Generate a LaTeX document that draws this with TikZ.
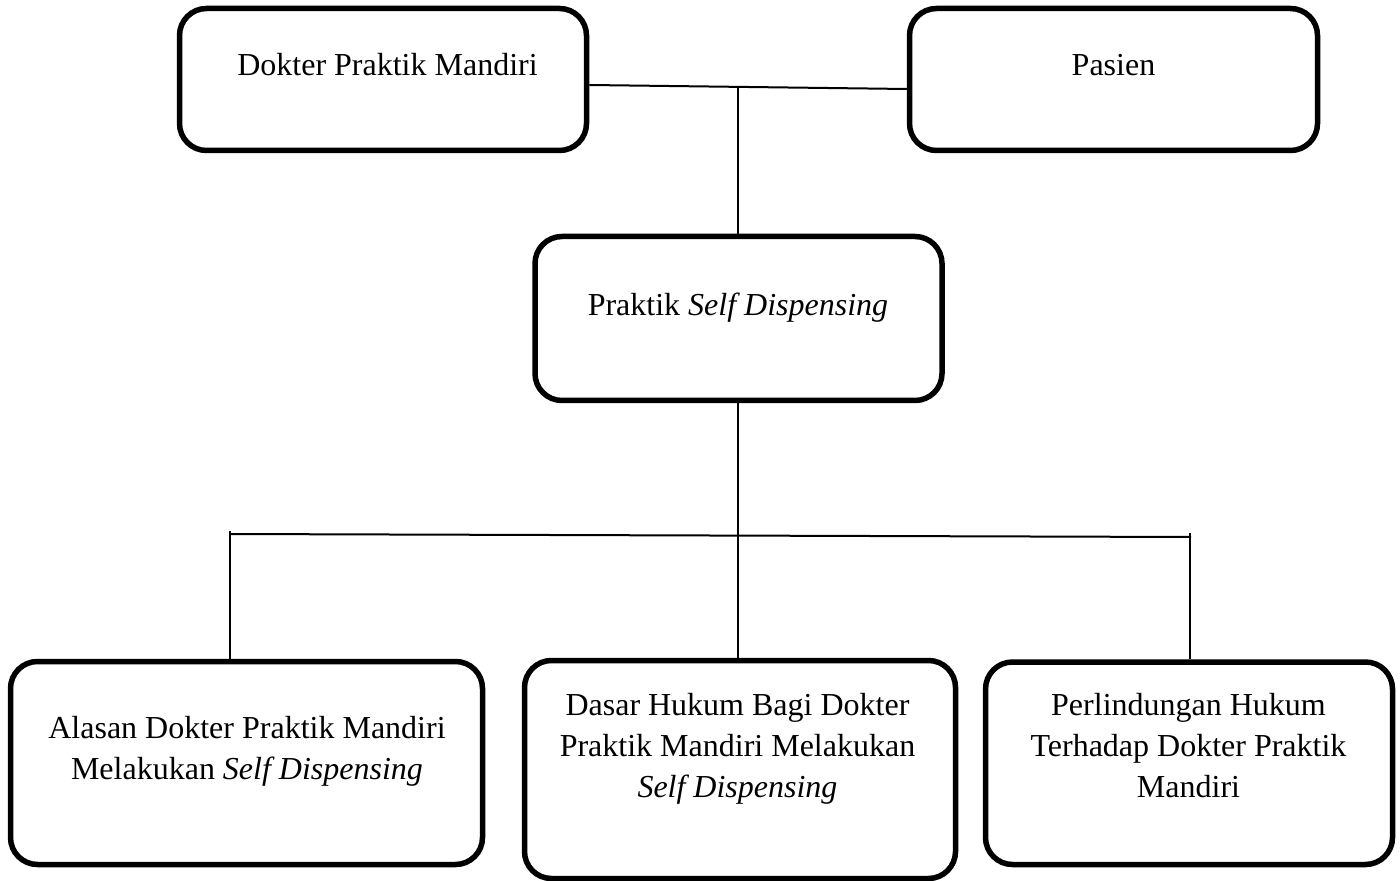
\documentclass[tikz,border=0pt]{standalone}
\usepackage{fontspec}
\setmainfont{Liberation Serif}
\begin{document}
\begin{tikzpicture}[x=0.5pt,y=-0.5pt,
  box/.style={draw=black,line width=2.75pt,rounded corners=13.5pt,inner sep=0pt,fill=white},
  conn/.style={draw=black,line width=1pt},
  lbl/.style={anchor=base,inner sep=0pt,font=\fontsize{16}{20.5}\selectfont}]
\useasboundingbox (0,0) rectangle (1400,881);
% boxes
\node[box,minimum width=203.5pt,minimum height=71pt] (A) at (383,79.5) {};
\node[box,minimum width=204pt,minimum height=71pt] (B) at (1113.5,79.5) {};
\node[box,minimum width=203.5pt,minimum height=82pt] (C) at (738.5,318.5) {};
\node[box,minimum width=236pt,minimum height=101.5pt] (D) at (246.5,763) {};
\node[box,minimum width=215.5pt,minimum height=109pt] (E) at (740,769.5) {};
\node[box,minimum width=203.5pt,minimum height=101.25pt] (F) at (1189,763.25) {};
% texts
\node[lbl] (tA) at (387.5,76) {Dokter Praktik Mandiri};
\node[lbl] (tB) at (1113.5,76) {Pasien};
\node[lbl] (tC) at (738,316) {Praktik \textit{Self Dispensing}};
\node[lbl] (tD) at (247,738) {\setlength{\tabcolsep}{0pt}\begin{tabular}[t]{c}Alasan Dokter Praktik Mandiri\\Melakukan \textit{Self Dispensing}\end{tabular}};
\node[lbl] (tE) at (737.5,715) {\setlength{\tabcolsep}{0pt}\begin{tabular}[t]{c}Dasar Hukum Bagi Dokter\\Praktik Mandiri Melakukan\\\textit{Self Dispensing}\end{tabular}};
\node[lbl] (tF) at (1188.5,715) {\setlength{\tabcolsep}{0pt}\begin{tabular}[t]{c}Perlindungan Hukum\\Terhadap Dokter Praktik\\Mandiri\end{tabular}};
% connectors
\coordinate (m) at (738,88.5);
\coordinate (hl) at (230,534);
\coordinate (hr) at (1191,537);
\coordinate (dl) at (230,531);
\coordinate (fr) at (1190,533);
\draw[conn] (A.east |- 0,85) -- (B.west |- 0,89);
\draw[conn] (m) -- (m |- C.north);
\draw[conn] (m |- C.south) -- (m |- E.north);
\draw[conn] (hl) -- (hr);
\draw[conn] (dl) -- (dl |- D.north);
\draw[conn] (fr) -- (fr |- F.north);
\end{tikzpicture}
\end{document}
